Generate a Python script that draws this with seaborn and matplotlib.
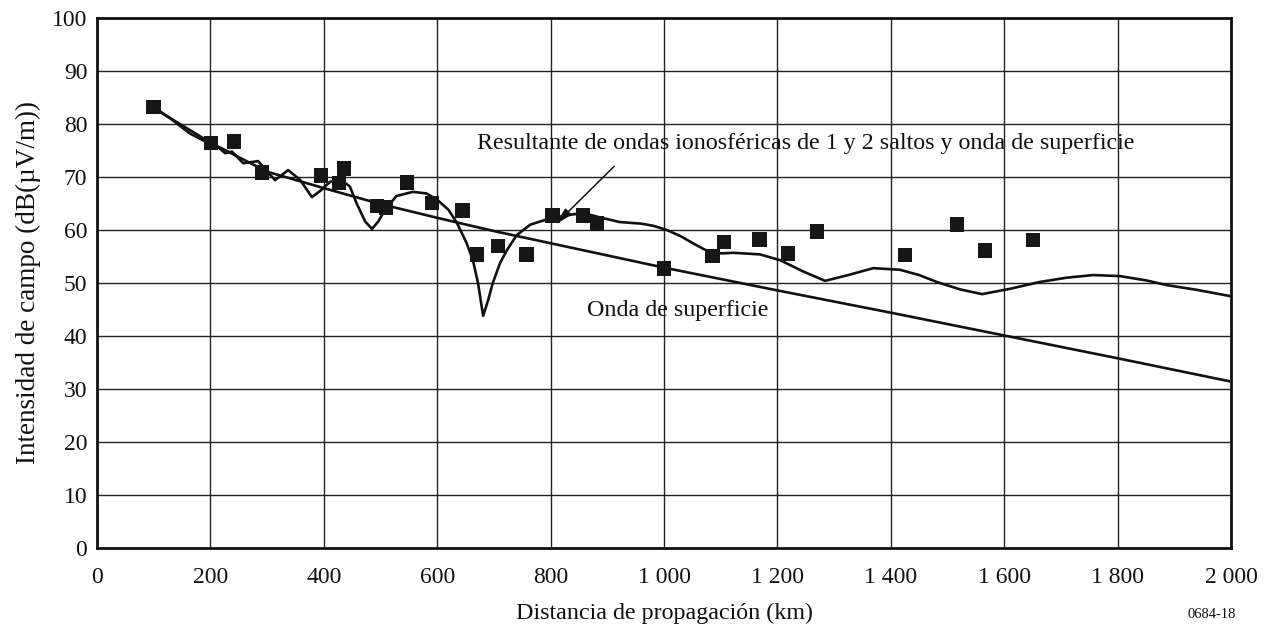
import matplotlib
matplotlib.use("Agg")
import matplotlib.pyplot as plt
import seaborn as sns
import pandas as pd
from matplotlib.ticker import FuncFormatter

# ---- data ----
meas_km = [100, 201, 242, 291, 395, 427, 436, 494, 510, 547, 591, 645, 670, 707, 757,
           803, 857, 882, 1000, 1086, 1106, 1168, 1219, 1270, 1425, 1517, 1566, 1651]
meas_db = [83.2, 76.4, 76.7, 70.8, 70.3, 68.9, 71.6, 64.5, 64.2, 69.0, 65.1, 63.7, 55.4, 57.0, 55.4,
           62.7, 62.7, 61.2, 52.7, 55.1, 57.7, 58.2, 55.6, 59.7, 55.3, 61.0, 56.1, 58.1]

surf_km = [100, 200, 300, 400, 500, 600, 700, 800, 900, 1000, 1200, 1400, 1600, 1800, 2000]
surf_db = [83.0, 76.5, 71.0, 67.9, 64.9, 62.3, 59.8, 57.5, 55.2, 52.9, 48.6, 44.4, 40.1, 35.8, 31.4]

res_km = [100, 130, 164, 200, 215, 226, 238, 258, 284, 314, 337, 358, 379, 395, 411, 430,
          446, 458, 473, 485, 496, 508, 528, 557, 581, 600, 620, 635, 652, 663, 672, 681,
          690, 698, 711, 723, 740, 764, 802, 830, 857, 890, 922, 960, 981, 1005, 1030,
          1051, 1070, 1087, 1105, 1122, 1169, 1205, 1245, 1284, 1325, 1369, 1416, 1450,
          1481, 1522, 1561, 1610, 1663, 1710, 1757, 1804, 1850, 1887, 1940, 2000]
res_db = [83.2, 81.0, 78.2, 76.2, 75.5, 74.5, 74.8, 72.6, 73.0, 69.4, 71.3, 69.5, 66.2, 67.5, 69.1, 69.5,
          68.2, 65.0, 61.6, 60.2, 61.6, 63.8, 66.4, 67.2, 66.9, 65.7, 63.8, 61.3, 57.5, 54.3, 50.0, 43.8,
          46.8, 50.0, 53.8, 56.2, 59.0, 61.0, 62.3, 62.8, 63.2, 62.3, 61.5, 61.2, 60.8, 60.0, 58.8,
          57.5, 56.4, 55.6, 55.6, 55.7, 55.4, 54.3, 52.2, 50.4, 51.5, 52.8, 52.5, 51.5,
          50.2, 48.8, 47.9, 48.9, 50.2, 51.0, 51.5, 51.3, 50.5, 49.6, 48.7, 47.5]

x_ticks = list(range(0, 2001, 200))
y_ticks = list(range(0, 101, 10))

label_res = "Resultante de ondas ionosféricas de 1 y 2 saltos y onda de superficie"
label_surf = "Onda de superficie"
xlabel = "Distancia de propagación (km)"
ylabel = "Intensidad de campo (dB(µV/m))"
fig_code = "0684-18"

# ---- plot ----
sns.set_theme(style="white")
plt.rcParams["font.family"] = ["Liberation Serif", "DejaVu Serif"]

fig = plt.figure(figsize=(12.7, 6.28), dpi=100)
ax = fig.add_axes([97 / 1270, 1 - 548 / 628, (1231 - 97) / 1270, (548 - 18) / 628])

df_surf = pd.DataFrame({"km": surf_km, "db": surf_db})
df_res = pd.DataFrame({"km": res_km, "db": res_db})
df_meas = pd.DataFrame({"km": meas_km, "db": meas_db})

sns.lineplot(data=df_surf, x="km", y="db", ax=ax, color="#111111", linewidth=1.9,
             sort=False, estimator=None, zorder=3)
sns.lineplot(data=df_res, x="km", y="db", ax=ax, color="#111111", linewidth=1.9,
             sort=False, estimator=None, zorder=3)
sns.scatterplot(data=df_meas, x="km", y="db", ax=ax, marker="s", s=110, color="#161616",
                edgecolor="none", linewidth=0, zorder=4)

ax.set_xlim(0, 2000)
ax.set_ylim(0, 100)
ax.set_xticks(x_ticks)
ax.set_yticks(y_ticks)
ax.xaxis.set_major_formatter(FuncFormatter(lambda v, p: f"{int(v):,}".replace(",", " ")))
ax.grid(True, color="#222222", linewidth=1.0)
ax.set_axisbelow(True)
for s in ax.spines.values():
    s.set_color("#111111")
    s.set_linewidth(2.0)
ax.tick_params(axis="both", length=0, labelsize=17, colors="#111111")
ax.tick_params(axis="x", pad=14)
ax.tick_params(axis="y", pad=7)

ax.set_xlabel(xlabel, fontsize=17.3, color="#111111", labelpad=10)
ax.set_ylabel(ylabel, fontsize=19.5, color="#111111", labelpad=8)

ax.text(670, 76.3, label_res, fontsize=17.3, color="#111111", va="center", ha="left")
ax.annotate("", xy=(808, 61.0), xytext=(912, 72.0),
            arrowprops=dict(arrowstyle="-|>,head_length=0.9,head_width=0.22", color="#111111",
                            lw=1.1, shrinkA=0, shrinkB=0))
ax.text(864, 44.9, label_surf, fontsize=17.3, color="#111111", va="center", ha="left")
fig.text(1236 / 1270, 1 - 614 / 628, fig_code, fontsize=10.5, color="#111111", ha="right", va="center")

fig.savefig("out.png", dpi=100)
